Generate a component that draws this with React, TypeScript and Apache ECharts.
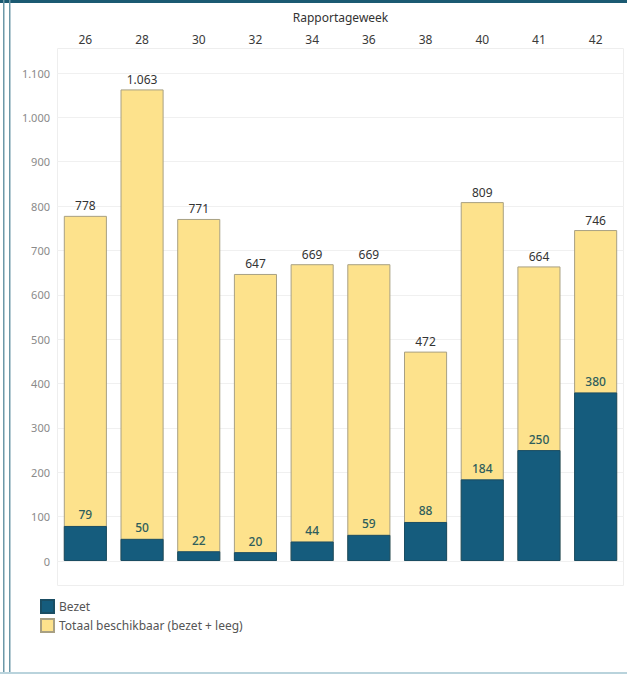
import React, { useEffect, useRef } from "react";
import * as echarts from "echarts";

const weeks = ["26", "28", "30", "32", "34", "36", "38", "40", "41", "42"];
const totaal = [778, 1063, 771, 647, 669, 669, 472, 809, 664, 746];
const bezet = [79, 50, 22, 20, 44, 59, 88, 184, 250, 380];
const yTicks = { min: 0, max: 1100, interval: 100 };

const fmt = (v: number) => String(v).replace(/\B(?=(\d{3})+(?!\d))/g, ".");

export default function App() {
  const ref = useRef<HTMLDivElement>(null);
  useEffect(() => {
    document.body.style.margin = "0";
    const chart = echarts.init(ref.current!, null, { renderer: "svg" });
    const font = "'Noto Sans', 'Open Sans', sans-serif";
    chart.setOption({
      animation: false,
      backgroundColor: "#ffffff",
      textStyle: { fontFamily: font },
      grid: { left: 57, right: 3, top: 73, height: 488 },
      graphic: [
        { type: "rect", shape: { x: 0, y: 0, width: 627, height: 3 }, style: { fill: "#1b5a72" } },
        { type: "rect", shape: { x: 3, y: 0, width: 1.5, height: 674 }, style: { fill: "#6c98a8" } },
        { type: "rect", shape: { x: 9, y: 0, width: 1.5, height: 674 }, style: { fill: "#6c98a8" } },
        { type: "rect", shape: { x: 0, y: 672, width: 627, height: 2 }, style: { fill: "#b9d3dc" } },
        {
          type: "rect",
          shape: { x: 57.5, y: 48.5, width: 566, height: 537 },
          style: { fill: "none", stroke: "#eeeeee", lineWidth: 1 },
          z: -1,
        },
      ],
      legend: {
        orient: "vertical",
        left: 35,
        top: 594,
        itemWidth: 13,
        itemHeight: 13,
        itemGap: 4,
        icon: "rect",
        textStyle: { fontSize: 12, color: "#555", fontFamily: font },
        data: ["Bezet", "Totaal beschikbaar (bezet + leeg)"],
      },
      xAxis: {
        type: "category",
        position: "top",
        data: weeks,
        name: "Rapportageweek",
        nameLocation: "middle",
        nameGap: 50,
        nameTextStyle: { fontSize: 12, color: "#333", fontFamily: font },
        axisLine: { show: false },
        axisTick: { show: false },
        axisLabel: { fontSize: 12, color: "#3a3a3a", margin: 28, fontFamily: font },
      },
      yAxis: {
        type: "value",
        min: yTicks.min,
        max: yTicks.max,
        interval: yTicks.interval,
        axisLine: { show: false },
        axisTick: { show: false },
        axisLabel: { fontSize: 11, color: "#8a8a8a", margin: 7, formatter: (v: number) => fmt(v), fontFamily: font },
        splitLine: { lineStyle: { color: "#f0f0f0", width: 1 } },
      },
      series: [
        {
          name: "Totaal beschikbaar (bezet + leeg)",
          type: "bar",
          data: totaal,
          barWidth: "76%",
          barGap: "-100%",
          itemStyle: { color: "#fde28c", borderColor: "#a8a083", borderWidth: 1 },
          label: {
            show: true,
            position: "top",
            distance: 4,
            fontSize: 12,
            color: "#333",
            formatter: (p: any) => fmt(p.value),
            fontFamily: font,
          },
        },
        {
          name: "Bezet",
          type: "bar",
          data: bezet,
          barWidth: "76%",
          barGap: "-100%",
          itemStyle: { color: "#155c7d", borderColor: "#1a4d63", borderWidth: 1 },
          label: {
            show: true,
            position: "top",
            distance: 5,
            fontSize: 12,
            fontWeight: 500,
            color: "#2f5e5c",
            fontFamily: font,
          },
        },
      ],
    });
    return () => chart.dispose();
  }, []);
  return <div ref={ref} style={{ width: 627, height: 674, position: "absolute", left: 0, top: 0 }} />;
}
